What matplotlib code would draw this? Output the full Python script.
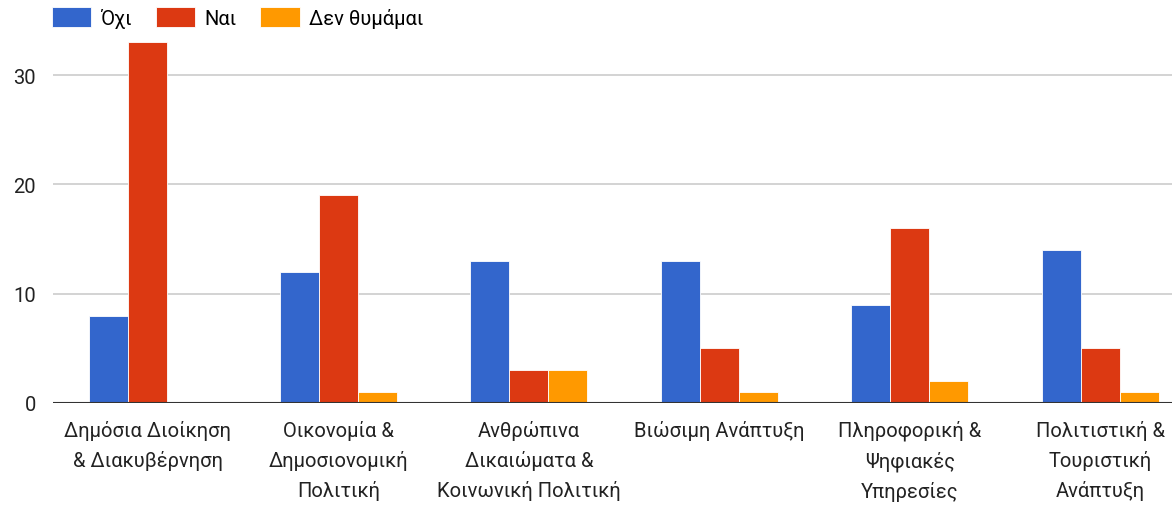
import matplotlib
matplotlib.use("Agg")
import matplotlib.pyplot as plt
import numpy as np

categories = [
    "Δημόσια Διοίκηση\n& Διακυβέρνηση",
    "Οικονομία &\nΔημοσιονομική\nΠολιτική",
    "Ανθρώπινα\nΔικαιώματα &\nΚοινωνική Πολιτική",
    "Βιώσιμη Ανάπτυξη",
    "Πληροφορική &\nΨηφιακές\nΥπηρεσίες",
    "Πολιτιστική &\nΤουριστική\nΑνάπτυξη",
]
series_names = ["Όχι", "Ναι", "Δεν θυμάμαι"]
ochi = [8, 12, 13, 13, 9, 14]
nai = [33, 19, 3, 5, 16, 5]
den_thymamai = [0, 1, 3, 1, 2, 1]
colors = ["#3366CC", "#DC3912", "#FF9900"]

plt.rcParams["font.family"] = ["Roboto", "DejaVu Sans"]

fig = plt.figure(figsize=(11.72, 5.06), dpi=100)
ax = fig.add_axes([0.045, 0.2016, 0.975, 0.76])

x = np.arange(len(categories))
w = 0.205
for i, (vals, name, c) in enumerate(zip([ochi, nai, den_thymamai], series_names, colors)):
    ax.bar(x + (i - 1) * w, vals, width=w, color=c, label=name,
           edgecolor="white", linewidth=0.6, zorder=3)

ax.set_xlim(-0.5, 5.5)
ax.set_ylim(0, 35.2)
ax.set_yticks([0, 10, 20, 30])
ax.grid(axis="y", color="#cccccc", linewidth=1.2, zorder=0)
ax.axhline(0, color="#333333", linewidth=1.5, zorder=4)
for s in ax.spines.values():
    s.set_visible(False)
ax.tick_params(axis="both", length=0, labelsize=14.5, colors="#222222")
ax.tick_params(axis="y", pad=12)
ax.set_xticks(x)
ax.set_xticklabels(categories, linespacing=1.63, va="top")
ax.tick_params(axis="x", pad=12)

ax.legend(loc="upper left", bbox_to_anchor=(0.044, 0.985), bbox_transform=fig.transFigure,
          ncol=3, frameon=False, fontsize=14.5, handlelength=1.95, handleheight=1.2,
          handletextpad=0.45, columnspacing=1.2, borderaxespad=0, borderpad=0)

fig.savefig("out.png", dpi=100)
